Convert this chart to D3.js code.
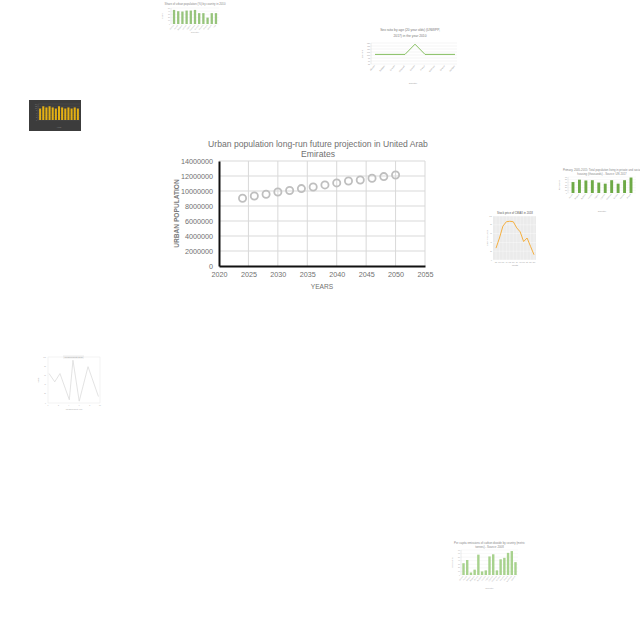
<!DOCTYPE html>
<html><head><meta charset="utf-8">
<script src="https://cdn.jsdelivr.net/npm/d3@7"></script>
<style>html,body{margin:0;padding:0;background:#fff;}svg{display:block;font-family:"Liberation Sans",Arial,sans-serif;}</style>
</head><body>
<svg id="c" width="640" height="640"></svg>
<script>
// ---- main chart data ----
const years = [2024,2026,2028,2030,2032,2034,2036,2038,2040,2042,2044,2046,2048,2050];
const urbanPop = [9040000,9330000,9570000,9870000,10060000,10320000,10540000,10810000,11080000,11340000,11470000,11700000,11920000,12140000];
const xTicks = [2020,2025,2030,2035,2040,2045,2050,2055];
const yTicks = [0,2000000,4000000,6000000,8000000,10000000,12000000,14000000];
const mainTitle = ["Urban population  long-run future projection in United Arab","Emirates"];

// ---- thumbnail data ----
const t1Values = [44,40,39,42,42,44,34,34,20,34,34];
const t2Cats = ["Albania","Belgium","Croatia","Denmark","Estonia","France","Germany","Greece","Hungary"];
const t2Values = [101,101,101,101,118,101,101,101,101];
const t3Values = [10,12,11,12,11,10,12,11,10,11,10,11,10];
const t4Cats = ["Austria","Belgium","Bulgaria","Croatia","Cyprus","Czechia","Denmark","Estonia","Finland","France"];
const t4Values = [41,50,47,48,39,35,48,35,48,58];
const t5Months = ["Jan","Feb","Mar","Apr","May","Jun","Jul","Aug","Sep","Oct","Nov","Dec"];
const t5Values = [27,50,77,87,88,87,73,64,42,50,31,12];
const t6X = [0.2,1.3,2.3,4.1,4.8,6.0,7.7,9.7];
const t6Values = [64,46,64,7,93,4,79,14];
const t7Cats = ["Albania","Austria","Belarus","Belgium","Bosnia","Bulgaria","Croatia","Cyprus","Czechia","Denmark","Estonia","Finland","France","Germany","Greece"];
const t7Values = [33,42,7,15,57,10,13,52,58,13,44,48,62,67,36];

const svg = d3.select("#c");
svg.append("rect").attr("width",640).attr("height",640).attr("fill","#fff");

// ===== main chart =====
const x = d3.scaleLinear().domain([2020,2055]).range([219,425]);
const y = d3.scaleLinear().domain([0,14000000]).range([266,161]);
const g = svg.append("g");
// grid
g.selectAll(".hg").data(yTicks.slice(1)).join("line")
  .attr("x1",219).attr("x2",425).attr("y1",d=>y(d)).attr("y2",d=>y(d))
  .attr("stroke","#d9d9d9").attr("stroke-width",1);
g.selectAll(".vg").data(xTicks.slice(1)).join("line")
  .attr("x1",d=>x(d)).attr("x2",d=>x(d)).attr("y1",161).attr("y2",266)
  .attr("stroke","#d9d9d9").attr("stroke-width",1);
// axes via d3
const yAxis = g.append("g").attr("transform","translate(219,0)")
  .call(d3.axisLeft(y).tickValues(yTicks).tickFormat(d3.format("d")).tickSize(0).tickPadding(6));
const xAxis = g.append("g").attr("transform","translate(0,266)")
  .call(d3.axisBottom(x).tickValues(xTicks).tickFormat(d3.format("d")).tickSize(0).tickPadding(6));
[yAxis,xAxis].forEach(a=>{
  a.select(".domain").attr("stroke","#111").attr("stroke-width",2);
  a.selectAll("text").attr("fill","#707070").attr("font-size",7.2).attr("font-family","'Liberation Sans',Arial,sans-serif");
});
// points
g.selectAll(".pt").data(years).join("circle")
  .attr("cx",(d)=>x(d)).attr("cy",(d,i)=>y(urbanPop[i])).attr("r",3.6)
  .attr("fill","none").attr("stroke","#bfbfbf").attr("stroke-width",1.8);
// title
g.selectAll(".tt").data(mainTitle).join("text")
  .attr("x",318).attr("y",(d,i)=>147+i*10).attr("text-anchor","middle")
  .attr("font-size",8.6).attr("fill","#707070").text(d=>d);
g.append("text").attr("transform","translate(179,213.5) rotate(-90)").attr("text-anchor","middle")
  .attr("font-size",6.6).attr("font-weight","bold").attr("fill","#7a7a7a").text("URBAN POPULATION");
g.append("text").attr("x",322).attr("y",288.5).attr("text-anchor","middle")
  .attr("font-size",6.6).attr("fill","#707070").text("YEARS");

// ===== thumbnails =====
function tinyText(sel,x0,y0,t,size,fill,anchor,rot){
  const tx = sel.append("text").attr("font-size",size).attr("fill",fill||"#999").attr("text-anchor",anchor||"middle");
  if(rot) tx.attr("transform",`translate(${x0},${y0}) rotate(${rot})`); else tx.attr("x",x0).attr("y",y0);
  tx.text(t); return tx;
}
function barThumb(opt){
  const gg = svg.append("g");
  const cats = opt.values.map((d,i)=>i);
  const xs = d3.scaleBand().domain(cats).range([opt.x0,opt.x1]).padding(opt.pad||0.4);
  const ys = d3.scaleLinear().domain([0,opt.max]).range([opt.yb,opt.yt]);
  if(opt.bg) gg.append("rect").attr("x",opt.bg[0]).attr("y",opt.bg[1]).attr("width",opt.bg[2]).attr("height",opt.bg[3]).attr("fill",opt.bgColor);
  ys.ticks(5).forEach(t=>{
    gg.append("line").attr("x1",opt.x0).attr("x2",opt.x1).attr("y1",ys(t)).attr("y2",ys(t)).attr("stroke",opt.gridColor||"#eee").attr("stroke-width",0.4);
    tinyText(gg,opt.x0-1,ys(t)+0.6,t,1.8,opt.textColor,"end");
  });
  gg.append("line").attr("x1",opt.x0).attr("x2",opt.x0).attr("y1",opt.yt).attr("y2",opt.yb).attr("stroke",opt.axisColor||"#ccc").attr("stroke-width",0.4);
  gg.selectAll("rect.b").data(opt.values).join("rect").attr("class","b")
    .attr("x",(d,i)=>xs(i)).attr("width",xs.bandwidth()).attr("y",d=>ys(d)).attr("height",d=>opt.yb-ys(d)).attr("fill",opt.color);
  if(opt.labels){
    opt.labels.forEach((l,i)=>tinyText(gg,xs(i)+xs.bandwidth()/2,opt.yb+1.5,l,1.8,opt.textColor,"end",-50));
  }
  if(opt.title) opt.title.forEach((t,i)=>tinyText(gg,(opt.x0+opt.x1)/2,opt.ty+i*4,t,2.8,opt.titleColor||"#888"));
  if(opt.xlabel) tinyText(gg,(opt.x0+opt.x1)/2,opt.xly,opt.xlabel,2.4,opt.textColor);
  if(opt.ylabel) tinyText(gg,opt.x0-8,(opt.yt+opt.yb)/2,opt.ylabel,2.2,opt.textColor,"middle",-90);
}
// 1. top green bars
barThumb({values:t1Values,max:50,x0:171,x1:219,yt:8,yb:24,color:"#97c47c",pad:0.45,
  labels:["Albania","Austria","Belgium","Croatia","Cyprus","Denmark","Estonia","Finland","France","Greece","Italy"],
  title:["Share of urban population (%) by country in 2010"],ty:5,xlabel:"Country",xly:33,ylabel:"Share",textColor:"#aaa"});
// 3. dark bars
barThumb({values:t3Values,max:14,x0:38,x1:80,yt:104,yb:120,color:"#e4b013",pad:0.35,
  bg:[29,100,52,31],bgColor:"#3c3c3c",gridColor:"#555",axisColor:"#666",textColor:"#888",xlabel:"Year",xly:128});
// 4. right green bars
barThumb({values:t4Values,max:60,x0:568,x1:636,yt:177,yb:193,color:"#6eaa47",pad:0.55,labels:t4Cats,
  title:["Primary, 2005-2015: Total population living in private and social","housing (thousands) - Source: UN 2017"],ty:171,
  xlabel:"Country",xly:212,ylabel:"Population",textColor:"#999"});
// 7. bottom-right light green bars
barThumb({values:t7Values,max:70,x0:461,x1:518,yt:550,yb:575,color:"#a8d28e",pad:0.35,labels:t7Cats,
  title:["Per capita emissions of carbon dioxide by country (metric","tonnes) - Source: 2008"],ty:544,xlabel:"Country",xly:589,ylabel:"Emissions",textColor:"#aaa"});

// 2. sex ratio line
(function(){
  const gg = svg.append("g");
  const xs = d3.scalePoint().domain(t2Cats).range([375,455]);
  const ys = d3.scaleLinear().domain([85,120]).range([64,43]);
  ys.ticks(7).forEach(t=>{
    gg.append("line").attr("x1",371).attr("x2",457).attr("y1",ys(t)).attr("y2",ys(t)).attr("stroke","#e6e6e6").attr("stroke-width",0.4);
    tinyText(gg,370,ys(t)+0.6,t,1.8,"#999","end");
  });
  gg.append("line").attr("x1",371).attr("x2",371).attr("y1",43).attr("y2",64).attr("stroke","#ccc").attr("stroke-width",0.4);
  gg.append("path").datum(t2Values).attr("fill","none").attr("stroke","#78b84f").attr("stroke-width",0.9)
    .attr("d",d3.line().x((d,i)=>xs(t2Cats[i])).y(d=>ys(d)));
  t2Cats.forEach(c=>tinyText(gg,xs(c),66,c,2,"#999","end",-50));
  tinyText(gg,410,31,"Sex ratio by age (20 year olds) (UNWPP,",3.3,"#777");
  tinyText(gg,410,37,"2017) in the year 2010",3.3,"#777");
  tinyText(gg,413,84,"Country",2.4,"#999");
  tinyText(gg,363,54,"Sex ratio",2.2,"#999","middle",-90);
})();

// 5. stock price line
(function(){
  const gg = svg.append("g");
  gg.append("rect").attr("x",493).attr("y",216).attr("width",43).attr("height",44).attr("fill","#ebebeb");
  const xs = d3.scalePoint().domain(t5Months).range([496,534]);
  const ys = d3.scaleLinear().domain([0,100]).range([260,216]);
  ys.ticks(5).forEach(t=>{
    gg.append("line").attr("x1",493).attr("x2",536).attr("y1",ys(t)).attr("y2",ys(t)).attr("stroke","#fff").attr("stroke-width",0.4);
    tinyText(gg,492,ys(t)+0.6,t,1.6,"#999","end");
  });
  t5Months.forEach(m=>{
    gg.append("line").attr("x1",xs(m)).attr("x2",xs(m)).attr("y1",216).attr("y2",260).attr("stroke","#fff").attr("stroke-width",0.3);
    tinyText(gg,xs(m),262.5,m,1.5,"#999");
  });
  gg.append("path").datum(t5Values).attr("fill","none").attr("stroke","#f5b041").attr("stroke-width",1)
    .attr("d",d3.line().x((d,i)=>xs(t5Months[i])).y(d=>ys(d)));
  tinyText(gg,515,214,"Stock price of CMAX in 2018",2.8,"#555");
  tinyText(gg,515,266,"Month",2.2,"#999");
  tinyText(gg,488,238,"Stock price (USD)",2,"#999","middle",-90);
})();

// 6. light line chart
(function(){
  const gg = svg.append("g");
  const xs = d3.scaleLinear().domain([0,10]).range([48,100]);
  const ys = d3.scaleLinear().domain([0,100]).range([403,357]);
  gg.append("rect").attr("x",48).attr("y",357).attr("width",52).attr("height",46).attr("fill","none").attr("stroke","#e2e2e2").attr("stroke-width",0.4);
  ys.ticks(6).forEach(t=>tinyText(gg,46,ys(t)+0.6,t,1.6,"#aaa","end"));
  xs.ticks(5).forEach(t=>tinyText(gg,xs(t),406,t,1.6,"#aaa"));
  gg.append("path").datum(t6Values).attr("fill","none").attr("stroke","#dcdcdc").attr("stroke-width",0.8)
    .attr("d",d3.line().x((d,i)=>xs(t6X[i])).y(d=>ys(d)));
  gg.append("rect").attr("x",63).attr("y",355.5).attr("width",21).attr("height",3).attr("fill","#eee");
  tinyText(gg,73.5,357.8,"Measurements 2018",2,"#aaa");
  tinyText(gg,74,410,"Measurement year",2,"#aaa");
  tinyText(gg,39,380,"Value",2,"#aaa","middle",-90);
})();
</script>
</body></html>
